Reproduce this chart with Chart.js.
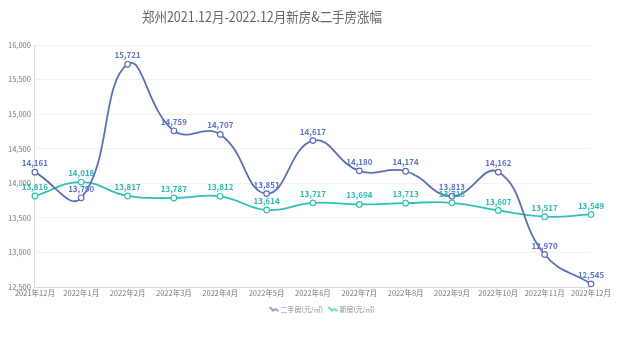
<!DOCTYPE html>
<html>
<head>
<meta charset="utf-8">
<script src="https://cdn.jsdelivr.net/npm/chart.js@4/dist/chart.umd.min.js"></script>
<style>
  html, body { margin: 0; padding: 0; background: #fff; }
  #wrap { width: 641px; height: 341px; }
</style>
</head>
<body>
<div id="wrap"><canvas id="c" width="641" height="341"></canvas></div>
<script>
const months = ['2021年12月','2022年1月','2022年2月','2022年3月','2022年4月','2022年5月','2022年6月','2022年7月','2022年8月','2022年9月','2022年10月','2022年11月','2022年12月'];
const secondHand = [14161, 13790, 15721, 14759, 14707, 13851, 14617, 14180, 14174, 13813, 14162, 12970, 12545];
const newHome = [13816, 14018, 13817, 13787, 13812, 13614, 13717, 13694, 13713, 13718, 13607, 13517, 13549];
const seriesNames = ['二手房(元/㎡)', '新房(元/㎡)'];
const titleText = '郑州2021.12月-2022.12月新房&二手房涨幅';

const blue = '#5b6fb6';
const teal = '#2fc1b5';
const FONT = '"Noto Sans CJK SC", "Noto Sans", sans-serif';

// small wave glyph used as legend marker
function waveIcon(color) {
  const cv = document.createElement('canvas');
  cv.width = 10; cv.height = 8;
  const g = cv.getContext('2d');
  g.strokeStyle = color; g.lineWidth = 1.3;
  g.beginPath();
  g.moveTo(0.5, 2.5);
  g.bezierCurveTo(3, 0.5, 4, 6.5, 5, 5);
  g.bezierCurveTo(6, 3.5, 7, 2.5, 9.5, 5.5);
  g.stroke();
  return cv;
}

// heading, drawn in a narrow face centred over the left part of the canvas
const heading = {
  id: 'heading',
  afterDraw(chart) {
    const ctx = chart.ctx;
    ctx.save();
    ctx.font = '14px ' + FONT;
    ctx.fillStyle = '#666';
    ctx.textBaseline = 'middle';
    const w = ctx.measureText(titleText).width;
    const target = 240;
    const sx = Math.min(1, target / w);
    ctx.translate(262 - (w * sx) / 2, 17);
    ctx.scale(sx, 1);
    ctx.fillText(titleText, 0, 0);
    ctx.restore();
  }
};

// value labels above each point
const valueLabels = {
  id: 'valueLabels',
  afterDatasetsDraw(chart) {
    const ctx = chart.ctx;
    ctx.save();
    ctx.font = 'bold 8px ' + FONT;
    ctx.textAlign = 'center';
    ctx.textBaseline = 'bottom';
    chart.data.datasets.forEach((ds, i) => {
      const meta = chart.getDatasetMeta(i);
      ctx.fillStyle = ds.labelColor;
      meta.data.forEach((pt, j) => {
        ctx.fillText(ds.data[j].toLocaleString('en-US'), pt.x, pt.y - 5);
      });
    });
    ctx.restore();
  }
};

new Chart(document.getElementById('c'), {
  type: 'line',
  data: {
    labels: months,
    datasets: [
      {
        label: seriesNames[0],
        data: secondHand,
        borderColor: blue,
        backgroundColor: '#fff',
        labelColor: '#5a74c4',
        borderWidth: 1.8,
        tension: 0.45,
        pointRadius: 2.8,
        pointBorderWidth: 1.2,
        pointBackgroundColor: '#fff',
        pointBorderColor: blue,
        legendIcon: waveIcon(blue)
      },
      {
        label: seriesNames[1],
        data: newHome,
        borderColor: teal,
        backgroundColor: '#fff',
        labelColor: '#2cb8ad',
        borderWidth: 1.8,
        tension: 0.45,
        pointRadius: 2.8,
        pointBorderWidth: 1.2,
        pointBackgroundColor: '#fff',
        pointBorderColor: teal,
        legendIcon: waveIcon(teal)
      }
    ]
  },
  options: {
    responsive: false,
    animation: false,
    devicePixelRatio: 1,
    layout: { padding: { left: 4, right: 0, top: 45, bottom: 18 } },
    plugins: {
      title: { display: false },
      legend: {
        position: 'bottom',
        labels: {
          usePointStyle: true,
          color: '#888',
          font: { family: FONT, size: 7 },
          boxWidth: 10,
          padding: 6,
          generateLabels(chart) {
            return chart.data.datasets.map((ds, i) => ({
              text: ds.label,
              pointStyle: ds.legendIcon,
              fillStyle: ds.borderColor,
              strokeStyle: ds.borderColor,
              fontColor: '#888',
              lineWidth: 0,
              hidden: false,
              datasetIndex: i
            }));
          }
        }
      },
      tooltip: { enabled: false }
    },
    scales: {
      x: {
        offset: false,
        grid: { display: false, drawTicks: false },
        border: { color: '#ddd' },
        ticks: { color: '#777', font: { family: FONT, size: 7.5 }, maxRotation: 0, autoSkip: false, padding: 2 }
      },
      y: {
        min: 12500,
        max: 16000,
        grid: { color: '#f2f2f2', drawTicks: false },
        border: { color: '#ddd' },
        ticks: {
          stepSize: 500,
          color: '#777',
          padding: 4,
          font: { family: FONT, size: 7.5 },
          callback: v => v.toLocaleString('en-US')
        }
      },
      // empty right-hand gutter
      gutter: {
        type: 'linear',
        position: 'right',
        display: true,
        grid: { display: false, drawTicks: false },
        border: { display: false },
        ticks: { display: false },
        afterFit(scale) { scale.width = 50; }
      }
    }
  },
  plugins: [valueLabels, heading]
});
</script>
</body>
</html>
